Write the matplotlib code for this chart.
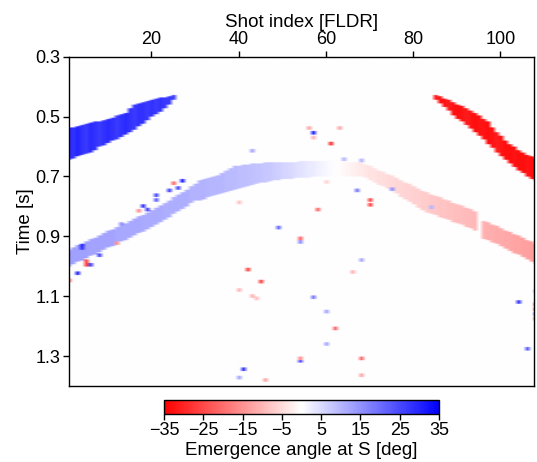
import numpy as np
import matplotlib
matplotlib.use("Agg")
import matplotlib.pyplot as plt

plt.rcParams['font.family'] = ['Liberation Sans', 'DejaVu Sans']

# ---------------- data ----------------
# Event A (blue, top-left): shots 1..25
a_shots = list(range(1, 26))
a_top = [0.540, 0.537, 0.533, 0.530, 0.527, 0.523, 0.520, 0.517, 0.513, 0.510,
         0.505, 0.500, 0.495, 0.490, 0.475, 0.462, 0.457, 0.453, 0.449, 0.446,
         0.443, 0.440, 0.437, 0.434, 0.432]
a_bot = [0.645, 0.640, 0.635, 0.630, 0.625, 0.620, 0.612, 0.603, 0.597, 0.590,
         0.583, 0.576, 0.569, 0.562, 0.553, 0.544, 0.534, 0.525, 0.514, 0.503,
         0.492, 0.484, 0.472, 0.460, 0.446]
a_ang = [29, 28, 30, 28, 27, 29, 28, 27, 28, 29,
         28, 27, 28, 29, 28, 27, 28, 28, 27, 28,
         27, 28, 27, 27, 26]

# Event B (red, top-right): shots 85..108
b_shots = list(range(85, 109))
b_top = [0.432, 0.436, 0.442, 0.448, 0.455, 0.462, 0.468, 0.476, 0.484, 0.492,
         0.500, 0.510, 0.520, 0.540, 0.555, 0.568, 0.582, 0.594, 0.604, 0.614,
         0.623, 0.630, 0.636, 0.640]
b_bot = [0.445, 0.458, 0.470, 0.483, 0.496, 0.508, 0.518, 0.530, 0.542, 0.553,
         0.564, 0.578, 0.592, 0.606, 0.620, 0.634, 0.646, 0.658, 0.670, 0.680,
         0.690, 0.700, 0.708, 0.712]
b_ang = [-31, -32, -32, -31, -32, -33, -32, -31, -32, -33,
         -32, -32, -33, -32, -31, -32, -33, -33, -32, -33,
         -33, -32, -33, -33]

# Event C (main arc): shots 1..108
c_shots = list(range(1, 109))
c_top = [0.945, 0.938, 0.932, 0.925, 0.918, 0.912, 0.905, 0.898, 0.891, 0.884,
         0.878, 0.871, 0.864, 0.857, 0.850, 0.843, 0.836, 0.829, 0.821, 0.814,
         0.807, 0.800, 0.791, 0.782, 0.772, 0.763, 0.754, 0.745, 0.735, 0.725,
         0.716, 0.712, 0.708, 0.704, 0.700, 0.692, 0.684, 0.676, 0.668, 0.666,
         0.664, 0.662, 0.660, 0.659, 0.657, 0.656, 0.656, 0.655, 0.655, 0.654,
         0.654, 0.653, 0.653, 0.652, 0.651, 0.651, 0.650, 0.650, 0.650, 0.651,
         0.651, 0.652, 0.652, 0.653, 0.653, 0.654, 0.655, 0.656, 0.662, 0.668,
         0.675, 0.681, 0.687, 0.694, 0.700, 0.707, 0.714, 0.721, 0.728, 0.735,
         0.742, 0.749, 0.756, 0.761, 0.767, 0.772, 0.778, 0.783, 0.789, 0.794,
         0.800, 0.806, 0.812, 0.820, np.nan, 0.850, 0.856, 0.862, 0.868, 0.875,
         0.881, 0.888, 0.894, 0.900, 0.907, 0.913, 0.919, 0.925]
c_thick = [0.055] * 30 + [
         0.065, 0.065, 0.062, 0.060, 0.060, 0.065, 0.070, 0.075, 0.077,
         0.075, 0.072, 0.070, 0.068, 0.066, 0.065, 0.064,
         0.062, 0.060, 0.058, 0.057, 0.056, 0.055, 0.054, 0.054, 0.053, 0.053,
         0.052, 0.052, 0.051, 0.051, 0.051, 0.051,
         0.050, 0.049, 0.048, 0.047, 0.046, 0.044, 0.044, 0.045, 0.046, 0.047,
         0.048, 0.049, 0.050, 0.052, 0.054, 0.056, 0.058, 0.060,
         0.062, 0.063, 0.064, 0.064, 0.064, 0.064, 0.064, 0.064, 0.063, 0.063,
         0.063, 0.062, 0.060, 0.060, np.nan, 0.058, 0.058, 0.058, 0.059, 0.060,
         0.060, 0.061, 0.062, 0.063, 0.064, 0.065, 0.066, 0.067]
c_ang = [13, 13, 13, 13, 13, 12.5, 12.5, 12.5, 12.5, 12.5,
         12.5, 12, 12, 12, 12, 12, 12, 11.5, 11.5, 11.5,
         11.5, 11.5, 11, 11, 11, 11, 11, 11, 10.5, 10.5,
         10.5, 10.5, 10, 10, 10, 10, 9.5, 9.5, 9.5, 9,
         9, 8.5, 8.5, 8, 8, 7.5, 7.5, 7, 6.5, 6,
         5.5, 5, 4.5, 4, 3.5, 3, 2.5, 2, 1.5, 1,
         0.5, 0, -0.5, -1, -1.5, -2, -2.5, -3, -3.5, -4,
         -4, -4.5, -4.5, -5, -5, -5.5, -5.5, -6, -6, -6.5,
         -6.5, -7, -7, -7.5, -7.5, -8, -8, -8.5, -8.5, -9,
         -9, -9.5, -9.5, -10, np.nan, -10.5, -11, -11, -11.5, -11.5,
         -12, -12, -12.5, -12.5, -13, -13, -13.5, -13.5]

# Isolated picks
n_shot = [27, 25, 26, 24, 21, 21, 18, 19, 17, 13, 12, 4, 4, 8, 5, 5, 6, 3, 1,
          56, 57, 57, 63, 61, 43, 67, 70, 70, 58, 40, 49, 60,
          54, 54, 68, 66, 42, 45, 40, 43, 44, 57, 60, 62, 60, 54, 54, 68, 41,
          40, 46, 68, 104, 108, 108, 108, 108, 108, 106, 64, 68, 75, 84]
n_time = [0.718, 0.722, 0.740, 0.746, 0.763, 0.780, 0.800, 0.812, 0.815, 0.862,
          0.923, 0.930, 0.940, 0.963, 0.985, 0.997, 0.995, 1.025, 1.047,
          0.539, 0.556, 0.572, 0.539, 0.592, 0.617, 0.746, 0.780, 0.795, 0.810,
          0.786, 0.873, 0.720,
          0.908, 0.920, 0.979, 1.022, 1.012, 1.050, 1.080, 1.100, 1.108, 1.104,
          1.154, 1.210, 1.260, 1.316, 1.308, 1.307, 1.343, 1.373, 1.382, 1.365,
          1.120, 1.082, 1.130, 1.145, 1.160, 1.175, 1.274, 0.643, 0.647, 0.743,
          0.806]
n_ang = [30, -20, 25, 25, 25, 22, 28, 25, -15, 15, -15, 30, 28, 25, -25, -25,
         25, 30, -20,
         -12, 30, -10, -12, -28, 12, 18, -25, -25, -20, -8, 20, -6,
         -20, 15, 12, -10, -25, -25, -10, -10, -8, 18, 12, -20, 12, 25, -15,
         -20, 28, 12, -12, -12, 28, 12, -32, -32, 28, -25, 22, 10, 10, 15, 10]

cbar_ticks = [-35, -25, -15, -5, 5, 15, 25, 35]

# ---------------- grid ----------------
dt = 0.004
t0, t1 = 0.3, 1.4
times = t0 + dt * np.arange(int(round((t1 - t0) / dt)) + 1)
nshot = 108
Z = np.zeros((len(times), nshot))


def fill_band(shots, tops, bots, angs):
    for s, tt, tb, a in zip(shots, tops, bots, angs):
        if np.isnan(tt) or np.isnan(tb) or np.isnan(a):
            continue
        m = (times >= tt - 1e-9) & (times <= tb + 1e-9)
        Z[m, s - 1] = a


fill_band(a_shots, a_top, a_bot, a_ang)
fill_band(b_shots, b_top, b_bot, b_ang)
c_bot = [t + h for t, h in zip(c_top, c_thick)]
fill_band(c_shots, c_top, c_bot, c_ang)
for s, t, a in zip(n_shot, n_time, n_ang):
    i = int(round((t - t0) / dt))
    Z[max(i - 1, 0):i + 2, s - 1] = a

# ---------------- plot ----------------
fig = plt.figure(figsize=(5.37, 4.62), dpi=100)
ax = fig.add_axes([0.1276, 0.1645, 0.8669, 0.7128])
im = ax.imshow(Z, cmap='bwr_r', vmin=-35, vmax=35, aspect='auto',
               interpolation='bilinear', interpolation_stage='rgba',
               extent=(0.5, nshot + 0.5, t1 + dt / 2, t0 - dt / 2))
ax.set_xlim(1, 107.7)
ax.set_ylim(1.4, 0.3)
ax.xaxis.tick_top()
ax.xaxis.set_label_position('top')
ax.set_xticks([20, 40, 60, 80, 100])
ax.set_yticks([0.3, 0.5, 0.7, 0.9, 1.1, 1.3])
ax.set_yticklabels(['0.3', '0.5', '0.7', '0.9', '1.1', '1.3'])
ax.tick_params(labelsize=13, length=4, width=1, direction='out', pad=2)
ax.set_xlabel('Shot index [FLDR]', fontsize=13.5, labelpad=3)
ax.set_ylabel('Time [s]', fontsize=13.5, labelpad=1)
for sp in ax.spines.values():
    sp.set_linewidth(1)

cax = fig.add_axes([0.3054, 0.1039, 0.5121, 0.0303])
cb = fig.colorbar(im, cax=cax, orientation='horizontal', ticks=cbar_ticks)
cb.ax.tick_params(labelsize=13, length=4, width=1, pad=2)
cb.outline.set_linewidth(1)
cb.set_label('Emergence angle at S [deg]', fontsize=13.5, labelpad=2)

fig.savefig('out.png', dpi=100)
